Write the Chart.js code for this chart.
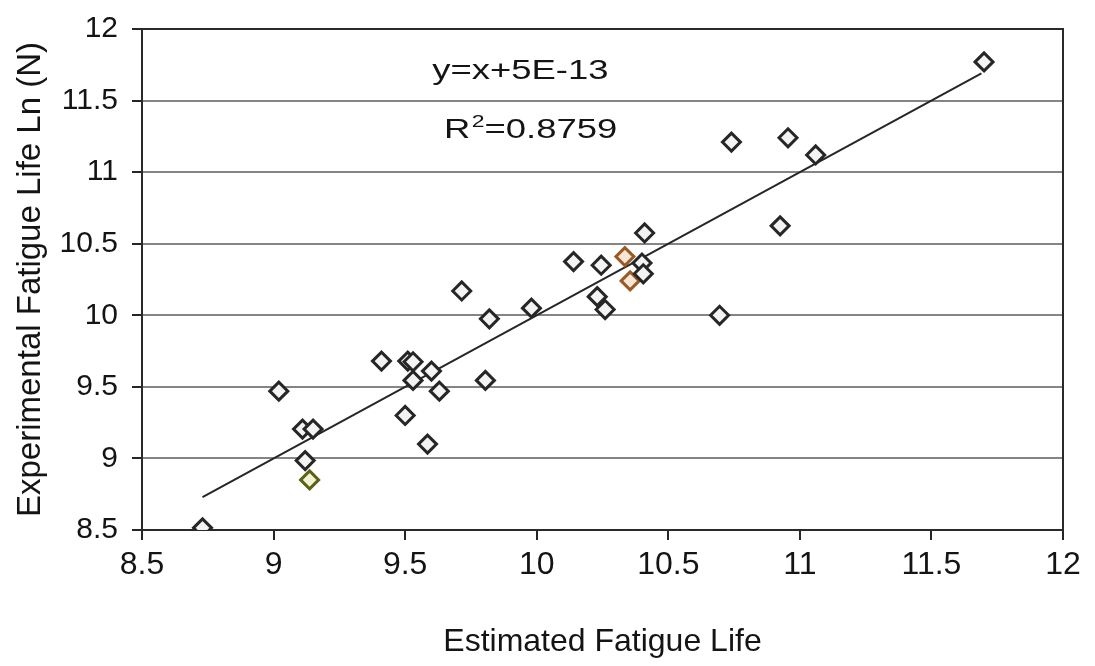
<!DOCTYPE html>
<html>
<head>
<meta charset="utf-8">
<script src="https://cdn.jsdelivr.net/npm/chart.js@4.4.0/dist/chart.umd.min.js"></script>
<style>
  body { margin: 0; background: #fff; }
  #wrap { width: 1095px; height: 666px; }
</style>
</head>
<body>
<div id="wrap"><canvas id="fatigueChart" width="1095" height="666"></canvas></div>
<script>
const estimatedLife = [8.73, 9.02, 9.11, 9.15, 9.12, 9.41, 9.51, 9.53, 9.53, 9.60,
                       9.63, 9.50, 9.585, 9.715, 9.82, 9.805, 9.98, 10.14, 10.245, 10.23,
                       10.26, 10.40, 10.405, 10.41, 10.695, 10.925, 10.74, 10.955, 11.06, 11.70];
const experimentalLife = [8.515, 9.47, 9.205, 9.205, 8.985, 9.68, 9.68, 9.675, 9.545, 9.61,
                          9.47, 9.30, 9.10, 10.17, 9.975, 9.545, 10.05, 10.375, 10.35, 10.13,
                          10.04, 10.365, 10.29, 10.575, 10.0, 10.625, 11.21, 11.24, 11.12, 11.77];

// Points teintés (orange et jaune) dans l'image d'origine
const orangeEstimated = [10.335, 10.355];
const orangeExperimental = [10.41, 10.24];
const yellowEstimated = [9.137];
const yellowExperimental = [8.85];

// Droite de tendance y = x
const trendX = [8.73, 11.69];
const trendY = [8.73, 11.69];

const axisTicks = [8.5, 9, 9.5, 10, 10.5, 11, 11.5, 12];
const equationText = 'y=x+5E-13';
const r2Value = '0.8759';

function toPoints(xs, ys) {
    return xs.map((x, i) => ({ x: x, y: ys[i] }));
}

const FONT = 'Liberation Sans, Arial, sans-serif';
const INK = '#141414';

// Cadre autour de la zone de tracé
const framePlugin = {
    id: 'frame',
    beforeDatasetsDraw(chart) {
        const { ctx, chartArea: a } = chart;
        ctx.save();
        ctx.strokeStyle = '#2a2a2a';
        ctx.lineWidth = 2;
        ctx.strokeRect(a.left, a.top, a.right - a.left, a.bottom - a.top);
        ctx.restore();
    }
};

// Équation et R² placés en coordonnées de données
const equationPlugin = {
    id: 'equation',
    afterDatasetsDraw(chart) {
        const { ctx, scales } = chart;
        const stretch = 1.35;
        ctx.save();
        ctx.fillStyle = INK;
        ctx.textBaseline = 'alphabetic';
        ctx.textAlign = 'left';

        let x = scales.x.getPixelForValue(9.603);
        let y = scales.y.getPixelForValue(11.653);
        ctx.save();
        ctx.translate(x, y);
        ctx.scale(stretch, 1);
        ctx.font = '27px ' + FONT;
        ctx.fillText(equationText, 0, 0);
        ctx.restore();

        x = scales.x.getPixelForValue(9.648);
        y = scales.y.getPixelForValue(11.237);
        ctx.save();
        ctx.translate(x, y);
        ctx.scale(stretch, 1);
        ctx.font = '27px ' + FONT;
        ctx.fillText('R', 0, 0);
        let w = ctx.measureText('R').width;
        ctx.font = '17px ' + FONT;
        ctx.fillText('2', w + 1, -11);
        w += ctx.measureText('2').width + 1;
        ctx.font = '27px ' + FONT;
        ctx.fillText('=' + r2Value, w, 0);
        ctx.restore();

        ctx.restore();
    }
};

const markerBase = {
    showLine: false,
    pointStyle: 'rectRot',
    pointRadius: 9,
    pointBorderWidth: 3
};

const ctx = document.getElementById('fatigueChart').getContext('2d');
new Chart(ctx, {
    type: 'scatter',
    data: {
        datasets: [
            Object.assign({}, markerBase, {
                label: 'Mesures',
                data: toPoints(estimatedLife, experimentalLife),
                pointBackgroundColor: '#f3f3f3',
                pointBorderColor: '#262626'
            }),
            Object.assign({}, markerBase, {
                label: 'Mesures (orange)',
                data: toPoints(orangeEstimated, orangeExperimental),
                pointBackgroundColor: '#f5e6d6',
                pointBorderColor: '#9a5a26'
            }),
            Object.assign({}, markerBase, {
                label: 'Mesures (jaune)',
                data: toPoints(yellowEstimated, yellowExperimental),
                pointBackgroundColor: '#f4f3cf',
                pointBorderColor: '#5f5f1c'
            }),
            {
                label: 'Tendance',
                type: 'line',
                data: toPoints(trendX, trendY),
                borderColor: '#262626',
                borderWidth: 2,
                pointRadius: 0,
                fill: false
            }
        ]
    },
    options: {
        responsive: false,
        animation: false,
        devicePixelRatio: 1,
        layout: { padding: { top: 22, right: 32, left: 0, bottom: 0 } },
        plugins: { legend: { display: false }, tooltip: { enabled: false } },
        scales: {
            x: {
                type: 'linear',
                min: 8.5,
                max: 12,
                afterFit(scale) { scale.height = 136; },
                afterBuildTicks(scale) { scale.ticks = axisTicks.map(v => ({ value: v })); },
                ticks: {
                    color: INK,
                    padding: 6,
                    font: { family: FONT, size: 32 },
                    callback: v => String(v)
                },
                grid: {
                    drawOnChartArea: false,
                    drawTicks: true,
                    tickLength: 10,
                    tickColor: '#262626',
                    lineWidth: 2
                },
                border: { display: true, color: '#262626', width: 2 },
                title: {
                    display: true,
                    text: 'Estimated Fatigue Life',
                    color: INK,
                    font: { family: FONT, size: 32 },
                    padding: { top: 0, bottom: 5 }
                }
            },
            y: {
                type: 'linear',
                min: 8.5,
                max: 12,
                afterFit(scale) { scale.width = 142; },
                afterBuildTicks(scale) { scale.ticks = axisTicks.map(v => ({ value: v })); },
                ticks: {
                    color: INK,
                    padding: 14,
                    font: { family: FONT, size: 30, lineHeight: 1 },
                    callback: v => String(v)
                },
                grid: {
                    color: '#858585',
                    lineWidth: 2,
                    tickLength: 10,
                    tickColor: '#262626'
                },
                border: { display: true, color: '#262626', width: 2 },
                title: {
                    display: true,
                    text: 'Experimental Fatigue Life Ln (N)',
                    color: INK,
                    font: { family: FONT, size: 33 },
                    padding: { top: 11, bottom: 0 }
                }
            }
        }
    },
    plugins: [framePlugin, equationPlugin]
});
</script>
</body>
</html>
